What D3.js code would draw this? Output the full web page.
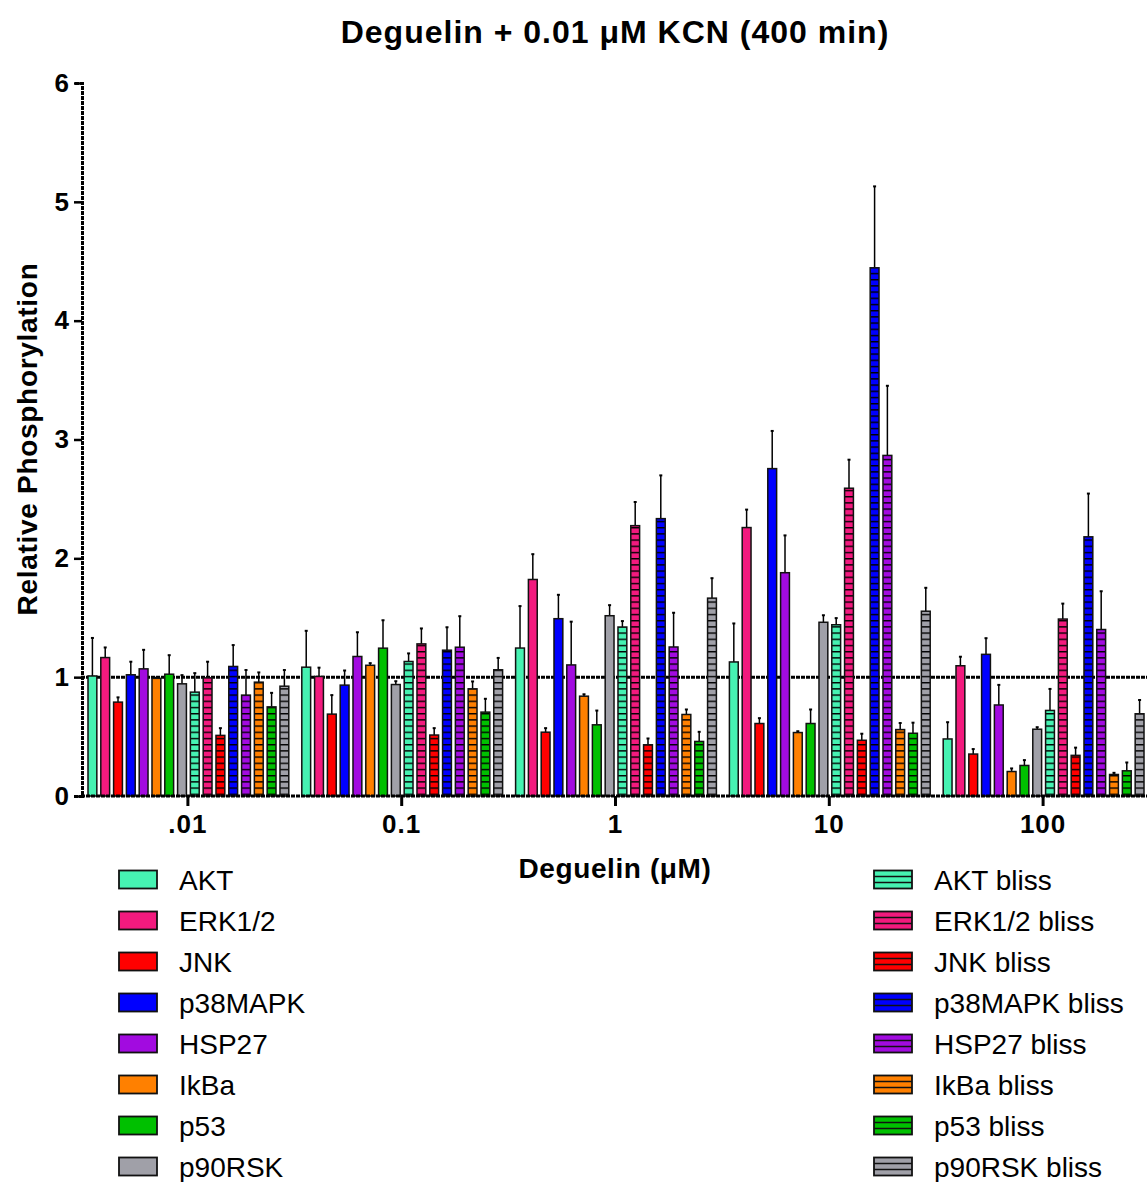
<!DOCTYPE html>
<html><head><meta charset="utf-8">
<script src="https://cdn.jsdelivr.net/npm/d3@7"></script>
<style>body{margin:0;background:#fff;} text{font-family:"Liberation Sans",Arial,sans-serif;}</style>
</head><body>
<svg id="chart" width="1147" height="1182"></svg>
<script>
const groups = [".01", "0.1", "1", "10", "100"];
const series = ["AKT","ERK1/2","JNK","p38MAPK","HSP27","IkBa","p53","p90RSK",
  "AKT bliss","ERK1/2 bliss","JNK bliss","p38MAPK bliss","HSP27 bliss","IkBa bliss","p53 bliss","p90RSK bliss"];
const colors = ["#46F2B2","#F21A7E","#FF0000","#0000FF","#A20BE0","#FF8000","#00C000","#A0A0A8"];
const yTicks = [0,1,2,3,4,5,6];
// mean values: rows = groups, columns = series
const means = [
  [1.01,1.165,0.79,1.02,1.07,0.99,1.025,0.944, 0.874,0.994,0.51,1.09,0.849,0.958,0.75,0.924],
  [1.084,1.006,0.689,0.933,1.174,1.10,1.244,0.938, 1.132,1.28,0.513,1.227,1.252,0.902,0.706,1.062],
  [1.245,1.822,0.537,1.492,1.103,0.84,0.599,1.517, 1.422,2.275,0.431,2.334,1.254,0.686,0.459,1.665],
  [1.128,2.259,0.61,2.755,1.879,0.534,0.61,1.462, 1.441,2.59,0.469,4.445,2.866,0.559,0.528,1.555],
  [0.48,1.096,0.353,1.192,0.766,0.206,0.257,0.562, 0.72,1.489,0.342,2.181,1.401,0.181,0.212,0.692]
];
// upper error bar ends
const errTops = [
  [1.33,1.25,0.83,1.13,1.23,0.995,1.185,1.017, 1.034,1.13,0.571,1.27,1.06,1.04,0.868,1.06],
  [1.39,1.08,0.849,1.056,1.378,1.118,1.479,0.966, 1.2,1.41,0.571,1.42,1.513,0.964,0.818,1.162],
  [1.598,2.035,0.571,1.693,1.467,0.856,0.719,1.606, 1.472,2.474,0.484,2.698,1.542,0.728,0.54,1.833],
  [1.452,2.41,0.655,3.072,2.193,0.545,0.728,1.521, 1.497,2.83,0.524,5.13,3.452,0.614,0.617,1.752],
  [0.621,1.172,0.395,1.328,0.935,0.232,0.302,0.579, 0.901,1.619,0.407,2.545,1.723,0.195,0.282,0.808]
];

const svg = d3.select("#chart");
const plotL = 81, plotR = 1150, plotT = 83, plotB = 796;
const y = d3.scaleLinear().domain([0,6]).range([plotB, plotT]);
const x0 = d3.scaleBand().domain(groups).range([plotL, plotR]).padding(0);
const x1 = d3.scaleBand().domain(series).range([7, x0.bandwidth()-6]).paddingInner(0.31);

const defs = svg.append("defs");
colors.forEach((c,i)=>{
  const p = defs.append("pattern").attr("id","hatch"+i).attr("patternUnits","userSpaceOnUse")
    .attr("width",10).attr("height",6.2);
  p.append("rect").attr("width",10).attr("height",6.2).attr("fill",c);
  p.append("rect").attr("y",0).attr("width",10).attr("height",1.4).attr("fill","#000");
});
function fillFor(si){ return si<8 ? colors[si] : "url(#hatch"+(si-8)+")"; }

// reference line at 1
svg.append("line").attr("x1",plotL).attr("x2",1147).attr("y1",y(1)).attr("y2",y(1))
  .attr("stroke","#000").attr("stroke-width",3).attr("stroke-dasharray","4,1");

const g = svg.append("g");
groups.forEach((gname,gi)=>{
  series.forEach((s,si)=>{
    const bx = x0(gname)+x1(s), bw = x1.bandwidth();
    const v = means[gi][si], e = errTops[gi][si];
    const cx = bx + bw/2;
    g.append("line").attr("x1",cx).attr("x2",cx).attr("y1",y(v)).attr("y2",y(e))
      .attr("stroke","#000").attr("stroke-width",1.5);
    g.append("line").attr("x1",cx-1.5).attr("x2",cx+1.5).attr("y1",y(e)).attr("y2",y(e))
      .attr("stroke","#000").attr("stroke-width",2);
    g.append("rect").attr("x",bx).attr("y",y(v)).attr("width",bw).attr("height",y(0)-y(v))
      .attr("fill",fillFor(si)).attr("stroke","#111").attr("stroke-width",1.5);
  });
});

const FF = "'Liberation Sans',Arial,sans-serif";
// y axis
const yAxis = d3.axisLeft(y).tickValues(yTicks).tickSize(8).tickPadding(5).tickFormat(d3.format("d"));
const ya = svg.append("g").attr("transform",`translate(${plotL+1},0)`).call(yAxis);
ya.select(".domain").attr("stroke-width",3).attr("stroke-dasharray","4,1");
ya.selectAll(".tick line").attr("stroke-width",2.5);
ya.selectAll("text").attr("font-size",26).attr("font-weight","bold").attr("fill","#000")
  .style("font-family",FF);

// x axis
const xAxis = d3.axisBottom(x0).tickSize(10).tickSizeOuter(0).tickPadding(9);
const xa = svg.append("g").attr("transform",`translate(0,${plotB})`).call(xAxis);
xa.select(".domain").attr("d",`M${plotL},0H1147`).attr("stroke-width",3).attr("stroke-dasharray","4,1");
xa.selectAll(".tick line").attr("stroke-width",3);
xa.selectAll("text").attr("font-size",26).attr("font-weight","bold").attr("fill","#000")
  .attr("letter-spacing",1).style("font-family",FF);

// titles
svg.append("text").attr("x",615).attr("y",43).attr("text-anchor","middle")
  .attr("font-size",32).attr("font-weight","bold").attr("letter-spacing",1)
  .text("Deguelin + 0.01 μM KCN (400 min)");
svg.append("text").attr("x",615).attr("y",878).attr("text-anchor","middle")
  .attr("font-size",28).attr("font-weight","bold").attr("letter-spacing",0.6).text("Deguelin (μM)");
svg.append("text").attr("transform","translate(37,439) rotate(-90)").attr("text-anchor","middle")
  .attr("font-size",28).attr("font-weight","bold").attr("letter-spacing",0.7).text("Relative Phosphorylation");

// legend
const legRow = d3.scaleBand().domain(d3.range(8)).range([859, 1187]);
series.forEach((s,si)=>{
  const col = si<8 ? 0 : 1, r = si%8;
  const sx = col===0 ? 119 : 874, tx = col===0 ? 179 : 934;
  const cy = legRow(r) + legRow.bandwidth()/2;
  svg.append("rect").attr("x",sx).attr("y",cy-9).attr("width",38).attr("height",18)
    .attr("fill", si<8 ? colors[si] : colors[si-8]).attr("stroke","#111").attr("stroke-width",1.8);
  if(si>=8){
    [cy-3,cy+3].forEach(ly=>svg.append("line").attr("x1",sx).attr("x2",sx+38).attr("y1",ly).attr("y2",ly)
      .attr("stroke","#111").attr("stroke-width",1.6));
  }
  svg.append("text").attr("x",tx).attr("y",cy+10).attr("font-size",28).attr("fill","#000").text(s);
});
</script>
</body></html>
